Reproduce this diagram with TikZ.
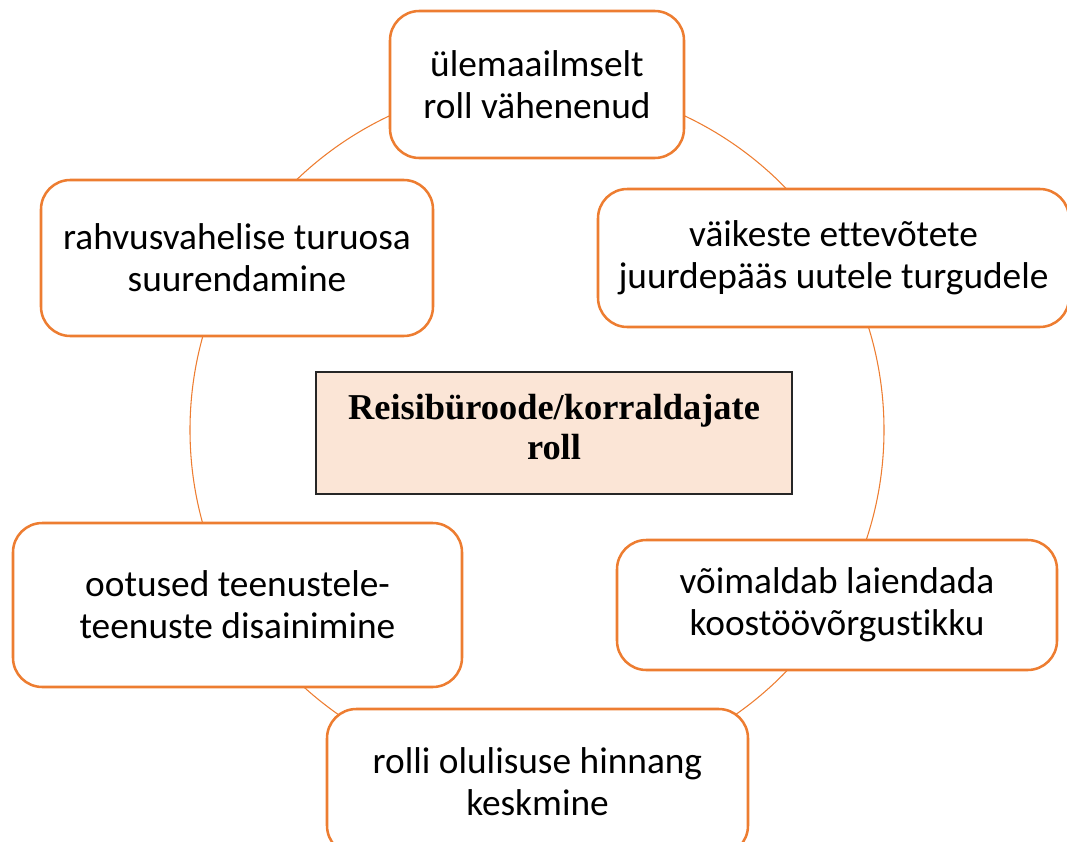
\documentclass[tikz,border=0pt]{standalone}
\usepackage{fontspec}
\setmainfont{Carlito}[RawFeature=-liga]
\newfontfamily\titlefont{Liberation Serif}
\definecolor{accent}{HTML}{ED7D31}
\definecolor{peach}{HTML}{FBE5D6}
\begin{document}
\begin{tikzpicture}[x=0.75pt,y=-0.75pt,
  item/.style={draw=accent, line width=1.9pt, fill=white, rounded corners=22pt,
    inner sep=0pt, align=center, font=\fontsize{28}{31.5}\selectfont},
  core/.style={draw=black!85, line width=0.8pt, fill=peach, inner sep=0pt,
    align=center, font=\titlefont\bfseries\fontsize{27.3}{30}\selectfont},
  ring/.style={draw=accent, line width=0.8pt}]
  \useasboundingbox (0,0) rectangle (1067,842);
  \clip (0,0) rectangle (1067,842);

  % ring linking the outer items
  \coordinate (hub) at (537,430);
  \draw[ring] (hub) circle[radius=260.25pt];

  % outer items
  \node[item, minimum width=220.5pt, minimum height=110.25pt] (top) at (537,84.5)
    {ülemaailmselt\\roll vähenenud};
  \node[item, minimum width=353.25pt, minimum height=103.5pt] (rup) at (833.5,258)
    {väikeste ettevõtete\\juurdepääs uutele turgudele};
  \node[item, minimum width=294pt, minimum height=117pt] (lup) at (237,258)
    {rahvusvahelise turuosa\\suurendamine};
  \node[item, minimum width=336.75pt, minimum height=123pt] (llow) at (237.5,605)
    {ootused teenustele-\\teenuste disainimine};
  \node[item, minimum width=330pt, minimum height=97.5pt] (rlow) at (837,605)
    {võimaldab laiendada\\koostöövõrgustikku};
  \node[item, minimum width=315.75pt, minimum height=109.5pt] (bot) at (537.5,782)
    {rolli olulisuse hinnang\\keskmine};

  % central topic
  \node[core, minimum width=357pt, minimum height=91.5pt] (ctr) at (554,433) {};
  \node[core, draw=none, fill=none] (ctrtext) at ([yshift=4.5pt]ctr.center)
    {Reisibüroode/korraldajate\\roll};
\end{tikzpicture}
\end{document}
